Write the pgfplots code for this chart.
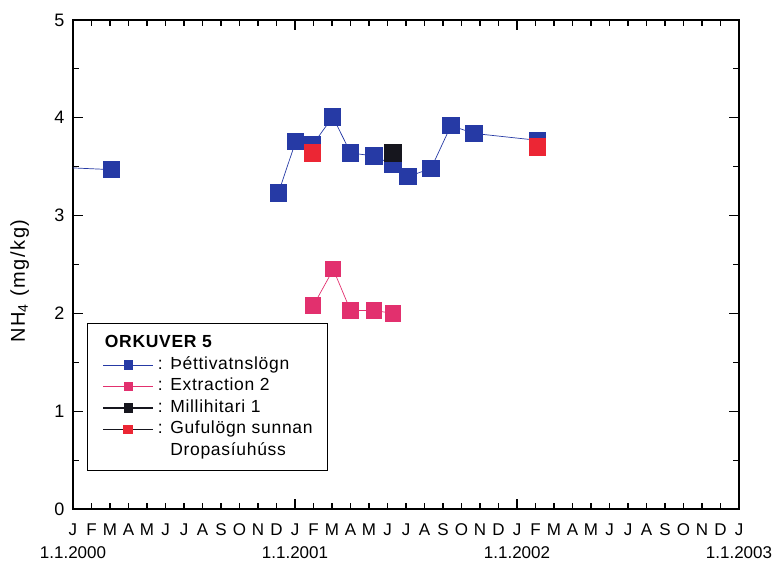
\documentclass[border=0pt]{standalone}
\usepackage{fontspec}
\setmainfont{Liberation Sans}
\usepackage{pgfplots}
\pgfplotsset{compat=1.18}
\usetikzlibrary{calc}

\definecolor{condblue}{RGB}{38,58,165}
\definecolor{extpink}{RGB}{226,48,110}
\definecolor{steamred}{RGB}{236,38,52}
\definecolor{mhblack}{RGB}{22,22,30}

\newcommand\legfont{\fontsize{17.5bp}{21bp}\selectfont\addfontfeature{LetterSpace=4}}

\begin{document}
\begin{tikzpicture}
\begin{axis}[
  name=ax,
  scale only axis, width=666bp, height=489bp,
  xmin=0, xmax=36, ymin=0, ymax=5,
  clip marker paths=true,
  unbounded coords=jump,
  axis line style={line width=1.4bp},
  every tick/.style={black, line width=1.2bp},
  major tick length=10bp, minor tick length=6bp,
  % years as major ticks, months as minor ticks
  xtick={0,12,24,36},
  xticklabels={{J\\1.1.2000},{J\\1.1.2001},{J\\1.1.2002},{J\\1.1.2003}},
  minor xtick={1,...,35},
  extra x ticks={1,...,11,13,14,...,23,25,26,...,35},
  extra x tick labels={F,M,A,M,J,J,A,S,O,N,D,F,M,A,M,J,J,A,S,O,N,D,F,M,A,M,J,J,A,S,O,N,D},
  extra x tick style={tick style={draw=none}},
  xticklabel style={align=center, anchor=north, yshift=-11bp,
    font=\fontsize{17bp}{23.5bp}\selectfont},
  ytick={0,...,5},
  minor y tick num=1,
  yticklabel style={font=\fontsize{18bp}{20bp}\selectfont, xshift=-5bp},
  /pgf/number format/assume math mode=true,
  ylabel={NH\textsubscript{4} (mg/kg)},
  ylabel style={at={(axis description cs:-0.08,0.466)}, anchor=center,
    font=\fontsize{20bp}{22bp}\selectfont\addfontfeature{LetterSpace=8}},
  legend cell align=left,
  legend style={at={(axis description cs:0.021,0.380)}, anchor=north west,
    draw=black, line width=1.2bp, inner xsep=15bp, inner ysep=9bp,
    font=\legfont, row sep=0bp, column sep=4bp,
    nodes={inner xsep=0pt, inner ysep=2.75bp, text height=12bp, text depth=4bp}},
  legend image code/.code={\draw[mark repeat=2, mark phase=2, #1]
    plot coordinates {(0bp,0bp) (25bp,0bp) (50bp,0bp)};},
  legend image post style={mark size=4.2bp},
]
% legend heading
\addlegendimage{legend image code/.code={\node[overlay, anchor=west, inner sep=0pt,
  font=\bfseries\legfont] at (1bp,0bp) {ORKUVER 5};}}
\addlegendentry{}

% Þéttivatnslögn
\addplot[color=condblue, line width=0.7bp, mark=square*, mark size=8.2bp,
  mark options={fill=condblue, draw=condblue, line width=0pt}]
  coordinates {(-1.5,3.50) (2.09,3.47) (6,nan) (11.1,3.23) (12.04,3.76)
    (12.94,3.72) (14.04,4.01) (15.01,3.64) (16.27,3.61) (17.3,3.52)
    (18.1,3.40) (19.35,3.48) (20.43,3.92) (21.68,3.84) (25.1,3.77)};
\addlegendentry{: Þéttivatnslögn}

% Extraction 2
\addplot[color=extpink, line width=0.7bp, mark=square*, mark size=7.6bp,
  mark options={fill=extpink, draw=extpink, line width=0pt}]
  coordinates {(12.99,2.08) (14.07,2.45) (15.0,2.03) (16.27,2.03) (17.3,2.00)};
\addlegendentry{: Extraction 2}

% Millihitari 1
\addplot[color=mhblack, line width=1.4bp, mark=square*, mark size=8.2bp,
  mark options={fill=mhblack, draw=mhblack, line width=0pt}]
  coordinates {(17.3,3.64)};
\addlegendentry{: Millihitari 1}

% Gufulögn sunnan Dropasíuhúss
\addplot[only marks, mark=square*, mark size=8.2bp,
  mark options={fill=steamred, draw=steamred, line width=0pt},
  legend image code/.code={
    \draw[mhblack, line width=1bp] (0bp,0bp) -- (50bp,0bp);
    \draw[mark=square*, mark size=4.2bp, mark options={fill=steamred, draw=steamred}]
      plot coordinates {(25bp,0bp)};}]
  coordinates {(12.94,3.64) (25.1,3.70)};
\addlegendentry{: Gufulögn sunnan}

\addlegendimage{empty legend}
\addlegendentry{\phantom{: }Dropasíuhúss}
\end{axis}
\pgfresetboundingbox
\path[use as bounding box] ($(ax.south west)+(-73bp,-57bp)$) rectangle ($(ax.north east)+(42bp,20bp)$);
\end{tikzpicture}
\end{document}
